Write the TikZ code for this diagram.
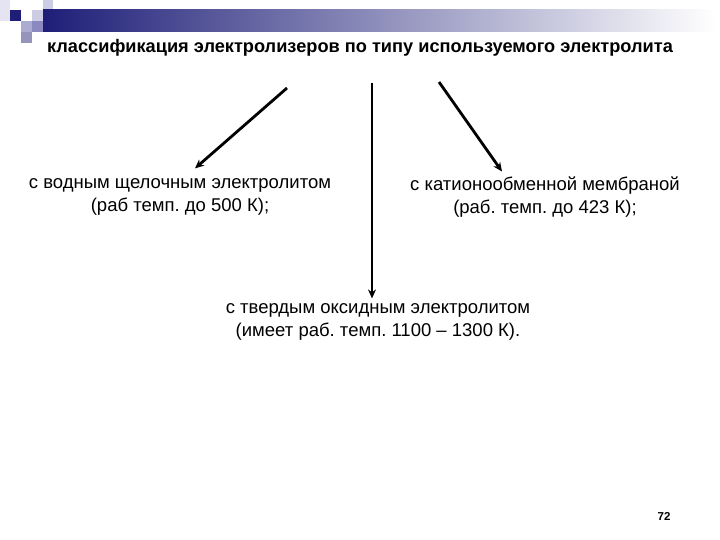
\documentclass[tikz,border=0pt]{standalone}
\usepackage{fontspec}
\setmainfont{Liberation Sans}
\usetikzlibrary{arrows.meta,calc}
\definecolor{navy}{HTML}{1E1E78}
\definecolor{sqpale}{HTML}{E4E4F2}
\definecolor{sqlight}{HTML}{CCCCE4}
\definecolor{sqmed}{HTML}{ACACD2}
\definecolor{sqmd}{HTML}{8A8AC0}
\definecolor{sqgray}{HTML}{9494BC}
\frenchspacing
\begin{document}
\begin{tikzpicture}[x=1pt,y=-1pt,
  lbl/.style={align=center,font=\fontsize{18.5}{23}\selectfont,inner sep=0pt},
  arr/.style={line width=2.8pt,-{Stealth[length=9pt,width=8pt]}},
  sq/.style={fill=#1,draw=none}]
\useasboundingbox (0,0) rectangle (720,540);
% decoration
\fill[sqpale] (0,0) rectangle (10,21);
\fill[navy] (10,10) rectangle (21,21);
\fill[sqlight] (32,10) rectangle (43,21);
\fill[sqlight] (43,0) rectangle (53,10);
\fill[sqmed] (21,21) rectangle (32,32);
\fill[sqmd] (32,21) rectangle (43,32);
\fill[sqgray] (21,32) rectangle (32,43);
\shade[left color=navy,right color=white] (43,10) rectangle (715,32);
% title
\node[font=\bfseries\fontsize{18.2}{22}\selectfont,inner sep=0pt] (title) at (360,48) {классификация электролизеров по типу используемого электролита};
% texts
\node[lbl] (left) at (180,197) {с водным щелочным электролитом\\(раб темп. до 500 К);};
\node[lbl] (right) at (545,197) {с катионообменной мембраной\\(раб. темп. до 423 К);};
\node[lbl] (bottom) at (378,322) {с твердым оксидным электролитом\\(имеет раб. темп. 1100 – 1300 К).};
\node[font=\bfseries\fontsize{11.5}{13}\selectfont,inner sep=0pt] (page) at (664,516) {72};
% arrows
\coordinate (sl) at (287,88);
\coordinate (sm) at (372,83);
\coordinate (sr) at (439,82);
\draw[arr] (sl) -- ($(left.north)+(15,-10)$);
\draw[arr] (sm) -- ($(bottom.north -| sm)+(0,-5)$);
\draw[arr] (sr) -- ($(right.north)+(-43,-5)$);
\end{tikzpicture}
\end{document}
